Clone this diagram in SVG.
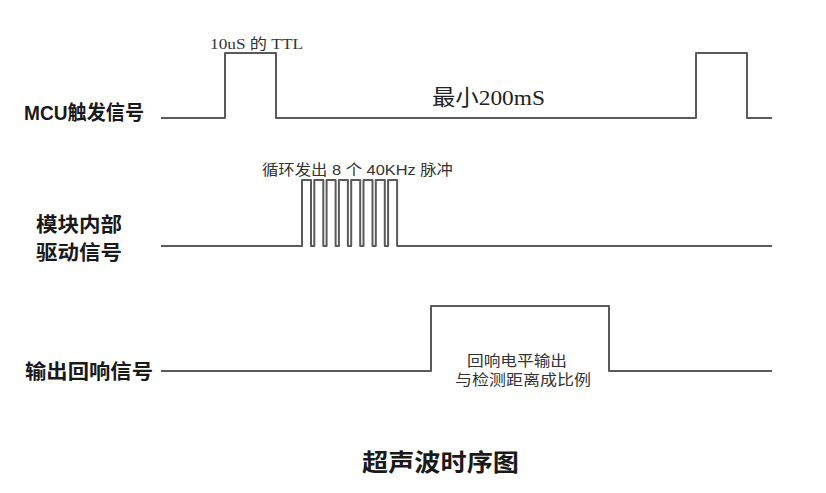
<svg xmlns="http://www.w3.org/2000/svg" width="826" height="493" viewBox="0 0 826 493">
<style>
.sig{fill:none;stroke:#5a5a5a;stroke-width:2;stroke-linejoin:round;stroke-linecap:butt}
.lbl{font-family:"Liberation Sans","Noto Sans CJK SC",sans-serif;font-weight:bold;font-size:20px;fill:#1a1a1a}
.note{font-family:"Liberation Serif","Noto Sans CJK SC",serif;font-size:15px;fill:#333}
.snote{font-family:"Liberation Sans","Noto Sans CJK SC",sans-serif;font-size:15px;fill:#333}
.big{font-family:"Liberation Serif","Noto Sans CJK SC",serif;font-size:22px;fill:#222}
.title{font-family:"Liberation Sans","Noto Sans CJK SC",sans-serif;font-weight:bold;font-size:24px;fill:#1a1a1a}
</style>
<rect width="826" height="493" fill="#ffffff"/>
<g id="connectors">
<path class="sig" d="M161 118 H225 V53 H276 V118 H696 V53 H747 V118 H772"/>
<path class="sig" d="M161 246 H302 V180 H311 V246 H314.3 V180 H323.3 V246 H326.6 V180 H335.6 V246 H338.9 V180 H347.9 V246 H351.2 V180 H360.2 V246 H363.5 V180 H372.5 V246 H375.8 V180 H384.8 V246 H388.1 V180 H397.1 V246 H772"/>
<path class="sig" d="M161 371 H431 V306 H609 V371 H772"/>
</g>
<g id="mcu-trigger">
<text class="lbl" x="24" y="120" textLength="120" lengthAdjust="spacingAndGlyphs">MCU触发信号</text>
<text class="note" x="210" y="49" textLength="93" lengthAdjust="spacingAndGlyphs">10uS 的 TTL</text>
<text class="big" x="432" y="105" textLength="113" lengthAdjust="spacingAndGlyphs">最小200mS</text>
</g>
<g id="module-drive">
<text class="lbl" x="36" y="232" textLength="86" lengthAdjust="spacingAndGlyphs">模块内部</text>
<text class="lbl" x="36" y="260" textLength="86" lengthAdjust="spacingAndGlyphs">驱动信号</text>
<text class="snote" x="262" y="175" textLength="191" lengthAdjust="spacingAndGlyphs">循环发出 8 个 40KHz 脉冲</text>
</g>
<g id="echo-output">
<text class="lbl" x="25" y="379" textLength="128" lengthAdjust="spacingAndGlyphs">输出回响信号</text>
<text class="snote" x="467" y="366" textLength="100" lengthAdjust="spacingAndGlyphs">回响电平输出</text>
<text class="snote" x="455" y="385" textLength="136" lengthAdjust="spacingAndGlyphs">与检测距离成比例</text>
</g>
<g id="title">
<text class="title" x="362" y="471" textLength="157" lengthAdjust="spacingAndGlyphs">超声波时序图</text>
</g>
</svg>
